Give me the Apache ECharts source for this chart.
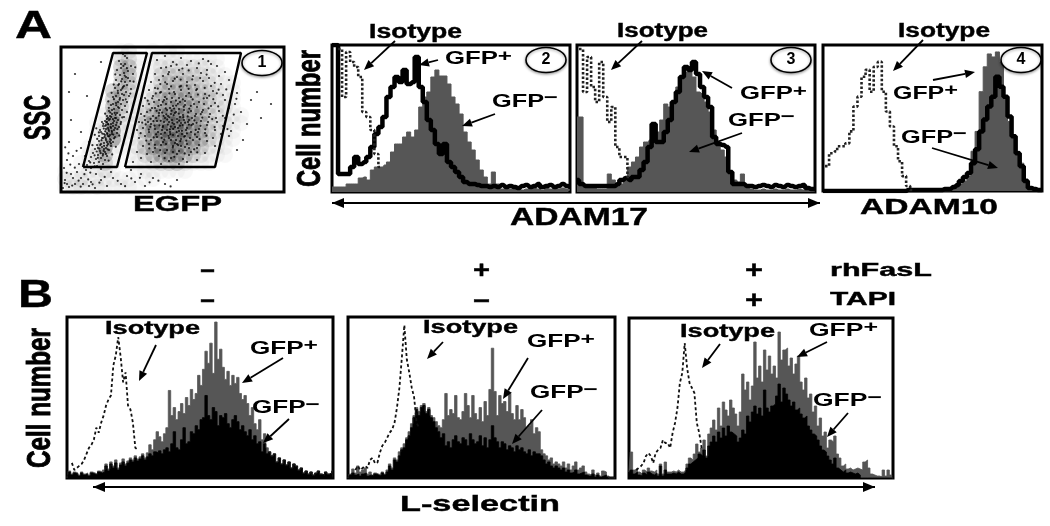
<!DOCTYPE html>
<html>
<head>
<meta charset="utf-8">
<script src="https://cdn.jsdelivr.net/npm/echarts@6/dist/echarts.min.js"></script>
<style>html,body{margin:0;background:#fff}#main{width:1050px;height:526px}</style>
</head>
<body>
<div id="main"></div>
<script>
// panel 1: SSC / EGFP dot plot, density read per 8px cell, rows top to bottom
var dotDensity=[
"0000000120010110000000000000",
"0000000331011111111100000000",
"0000000551012222221100000000",
"0000000451013333322110000000",
"0000000441013444332111000000",
"0000005431024445433211000000",
"0000005421134555443211000000",
"0000016411245666543221000000",
"0000017311356776553211100000",
"0000119211467887653221100000",
"0000129111578887653211000000",
"0000119111367887653211000000",
"0001181102467776542110000000",
"0001261011356885421110000000",
"0011141001123452111000000000",
"1011121001111111000000000000",
"2121111110110000000000000000",
"1221211111000000000000000000"];
var dotsLeft=[[62,138],[66,134],[58,131],[64,128],[70,126],[60,124],[56,122],[67,121],[63,119],[72,118],[59,117],[65,115],[61,113],[55,112],[69,111],[64,110],[58,108],[66,107],[62,105],[54,104],[70,103],[60,102],[65,100],[57,99],[63,97],[68,96],[52,95],[59,94],[62,92],[66,90],[55,89],[60,88],[50,87],[64,86],[57,85],[53,83],[61,82],[48,81],[66,80],[56,79],[51,78],[59,77],[46,76],[63,75],[54,74],[49,73],[57,72],[44,71],[60,70],[52,69],[47,68],[55,67],[42,66],[58,65],[50,64],[45,63],[53,62],[48,61],[40,60],[56,59],[51,58],[44,57],[47,56],[54,55],[41,54],[49,53],[45,52],[38,51],[52,50],[43,49],[47,48],[36,47],[50,46],[41,45],[45,44],[34,43],[48,42],[39,41],[44,40],[32,39],[42,38],[37,37],[46,36],[30,35],[40,34],[35,33],[44,32],[28,31],[38,30],[33,29],[42,28],[26,27],[36,26],[48,25],[30,24],[40,23],[52,66],[46,70],[49,76],[53,71],[43,58],[47,64],[51,60],[55,74],[39,62],[46,59],[50,68],[44,66],[48,72],[54,64],[42,54],[46,50],[40,48],[50,52],[37,44],[43,43],[47,74],[51,82],[57,90],[61,98],[63,106],[67,114],[60,128],[64,136],[55,96],[52,88],[58,84],[49,57],[45,67],[41,70],[38,56],
[47.5,62.3],[44.2,60.7],[49.6,65.1],[42.8,63.4],[46.3,57.9],[50.7,61.2],[43.6,55.2],[48.1,55.5],[45.4,69.6],[51.9,72.8],[41.3,58.4],[47.2,67.7],[44.7,53.6],[40.5,51.8],[52.3,57.4],[48.8,50.3],[39.2,46.9],[43.1,46.2],[46.6,42.7],[35.7,40.5],[41.8,36.4],[38.4,43.3],[44.9,38.1],[33.6,36.7],[49.3,79.5],[53.7,79.1],[47.8,84.2],[55.2,86.7],[58.6,92.3],[52.9,92.8],[61.3,103.6],[56.8,101.2],[63.7,116.4],[60.2,110.7],[65.9,123.8],[62.4,126.1],[57.3,106.9],[54.6,77.2],[50.2,75.1],[45.8,72.9],[42.3,68.2],[37.9,59.6],[36.2,53.1],[55.8,69.3],[53.1,53.7],[49.9,48.6],[46.1,46.3],[42.7,41.2],[39.6,38.8],[36.8,34.2],
[56.4,62.8],[59.7,68.1],[61.2,74.6],[35.3,63.7],[33.8,57.2],[58.3,56.4],[64.7,92.7],[69.3,98.4],[50.6,99.2],[47.3,90.6],[44.1,78.3],[72.6,110.3],[52.7,107.4],[74.2,124.7],[54.3,117.6],[31.4,46.8],[54.8,45.2],[51.2,37.6],[29.2,29.6],[47.6,31.4]];
var dotsRight=[[96,132],[104,136],[112,130],[120,134],[130,131],[142,133],[150,128],[100,124],[110,126],[118,122],[126,127],[136,124],[146,122],[156,126],[164,120],[94,118],[102,116],[108,120],[116,115],[122,118],[132,116],[140,119],[148,114],[158,116],[168,112],[90,110],[98,112],[106,108],[112,111],[120,106],[126,110],[134,107],[142,111],[150,106],[160,108],[172,104],[88,102],[94,104],[100,100],[108,103],[114,98],[120,102],[128,99],[136,103],[144,98],[152,101],[162,97],[176,99],[84,94],[92,96],[98,92],[104,95],[110,90],[118,94],[124,91],[130,95],[138,90],[146,94],[154,89],[164,92],[174,88],[82,86],[88,88],[94,84],[100,87],[106,82],[112,86],[118,83],[124,87],[130,81],[136,85],[142,82],[150,86],[158,81],[168,84],[180,80],[80,78],[86,80],[92,76],[98,79],[104,74],[110,78],[116,73],[122,77],[128,72],[134,76],[140,71],[148,75],[156,70],[164,74],[172,69],[78,70],[84,72],[90,68],[96,71],[102,66],[108,70],[114,65],[120,69],[126,64],[132,68],[138,63],[146,67],[154,62],[162,66],[170,61],[76,62],[82,64],[88,60],[94,63],[100,58],[106,62],[112,57],[118,61],[124,56],[130,60],[136,55],[144,59],[152,54],[160,58],[78,54],[84,56],[90,52],[96,55],[102,50],[108,54],[114,49],[120,53],[126,48],[132,52],[138,47],[146,51],[154,46],[82,46],[88,48],[94,44],[100,47],[106,42],[112,46],[118,41],[124,45],[130,40],[136,44],[144,39],[86,38],[92,40],[98,36],[104,39],[110,34],[116,38],[122,33],[128,37],[136,32],[90,30],[100,28],[108,31],[118,28],[126,30],[80,34],[76,40],[72,30],[107,76],[111,72],[115,80],[103,70],[119,75],[123,82],[113,68],[109,60],[117,64],[127,70],[105,88],[111,94],[99,82],[95,74],[121,58],[115,52],[125,62],[131,74],[101,62],[135,78],[91,84],[87,70],[113,100],[125,96],[133,88],[141,80],[147,70],[129,54],[137,60],[105,48],[97,60],[109,84],[119,90],[123,72],[117,56],[103,92],[93,90],[143,88],[149,78],[155,74],[128,44],[120,46],[112,40],[116,48],[110,52],
[105.3,77.6],[99.7,71.2],[111.4,69.1],[117.8,78.3],[93.5,66.4],[121.6,66.9],[103.9,59.3],[127.2,79.7],[113.1,83.5],[97.3,85.8],[89.6,73.2],[109.8,65.4],[115.7,59.8],[133.4,71.6],[125.9,58.7],[101.2,79.4],[107.6,56.2],[119.3,50.9],[95.1,57.7],[139.5,66.2],[122.8,85.3],[105.7,93.1],[114.9,91.4],[91.2,93.7],[131.7,92.6],[87.8,62.3],[83.4,75.9],[99.1,99.3],[108.4,98.6],[118.7,105.3],[127.6,103.2],[136.9,97.4],[143.7,104.1],[152.3,92.8],[147.5,83.7],[157.2,85.6],[153.6,64.9],[161.8,76.2],[145.4,56.3],[138.6,52.8],[133.1,42.7],[123.7,38.6],[113.3,35.2],[103.6,33.8],[93.9,47.2],[85.3,51.4],[79.6,58.8],[81.2,69.3],[89.4,81.7],[96.8,103.4],[104.2,109.6],[113.7,113.3],[121.4,123.5],[131.3,112.6],[139.2,113.9],[107.2,117.8],[145.6,117.4],[153.7,109.2],[129.8,86.1],[116.3,69.7],[101.7,64.8],[110.6,81.3],[120.9,61.2],[126.7,75.6],[106.3,72.4],[112.6,76.8],[98.4,66.7],[115.2,86.4],[124.1,69.3],[134.7,62.1],[141.3,74.4],[92.7,54.6],[103.3,52.3],[111.8,44.6],[125.3,51.4],[136.2,39.7],[88.3,43.6],[99.2,41.8],[130.4,66.8],[118.2,71.3],[108.9,62.7],[121.8,92.6],[95.6,81.2],[86.7,91.3],[142.7,93.6],[155.8,98.7],[165.3,102.6],[172.8,77.4],[166.4,62.9],[151.2,72.9],[105.1,124.7],[115.6,127.3],[127.7,121.6],[137.8,128.6],[147.3,130.8],[99.3,107.9],[157.6,102.3],[175.4,93.2],
[108.3,74.7],[113.8,78.9],[102.6,76.1],[118.9,66.3],[122.3,74.8],[97.8,76.3],[106.8,67.4],[112.2,63.1],[127.9,67.4],[104.7,83.6],[116.8,88.2],[92.4,70.8],[128.3,83.4],[135.6,69.2],[123.2,55.3],[117.1,46.9],[109.2,57.8],[100.6,54.1],[89.3,65.2],[84.7,67.6],[133.9,57.6],[139.8,77.9],[144.3,62.7],[101.8,90.2],[110.1,105.7],[125.8,106.3],[135.2,101.8],[148.2,96.3],[94.8,98.6],[119.7,112.4]];
var dotsSparse=[[6,32],[3,24],[10,18],[4,12],[14,8],[8,5],[20,14],[25,22],[18,28],[12,36],[30,10],[35,18],[28,6],[40,12],[46,6],[52,14],[60,8],[66,16],[74,10],[84,6],[92,14],[104,8],[116,12],[34,4],[16,20],[22,8],[6,8],[12,14],[2,4],[50,20],[70,22],[80,18],[20,60],[10,72],[26,96],[14,118],[40,130],[8,100],[196,100],[210,88],[186,68],[200,74],[182,52],[176,42],[168,56],[190,92],[20,44],[8,50],[28,50],[24,36],
[9.3,27.4],[5.7,19.2],[17.6,11.3],[23.4,17.8],[27.2,12.6],[13.8,24.3],[31.6,7.7],[38.4,9.3],[43.7,15.1],[11.2,6.4],[19.7,5.3],[7.4,38.6],[4.2,44.7],[15.6,41.2],[29.3,19.4],[33.8,25.6],[56.7,11.2],[64.1,5.8],[70.3,13.6],[78.9,14.2],[88.6,9.7],[97.4,11.3],[109.6,5.6],[3.6,8.9],[22.7,27.2]];
// gates drawn on the dot plot
var gateLeft=[[22,25],[56,25],[86,139],[52,139],[22,25]];
var gateRight=[[64,25],[154,25],[180,139],[91,139],[64,25]];

// panels 2-4: ADAM17 / ADAM10 histograms
var minus2=[5,5,5,5,8,8,8,14,15,12,22,25,25,27,30,40,48,48,55,60,55,62,85,95,100,115,122,116,116,108,95,88,78,60,50,42,32,22,15,8,20,8,3,4,3,5,4,2,3,5,4,3,2,4,3,5,3,4,3,2];
var plus2=[147,147,18,18,18,25,35,28,30,35,45,58,65,75,95,105,115,110,122,108,110,135,105,90,72,62,48,38,48,30,25,20,15,10,8,8,7,6,6,5,6,5,7,5,6,5,4,6,7,5,6,8,5,6,7,5,6,8,6,5];
var iso2=[null,null,143,95,140,130,125,115,80,75,62,38,25];
var minus3=[75,75,5,5,5,3,3,3,18,12,8,8,15,25,30,35,45,50,52,55,60,72,88,85,88,105,115,120,122,115,100,98,90,80,62,50,42,35,20,12,10,18,5,3,2,2,3,2,2,3,2,2,3,2,2,3,2,2,1,1];
var plus3=[12,8,6,6,6,6,6,6,6,6,8,12,14,12,15,15,22,30,45,68,50,50,60,72,90,100,115,125,122,130,118,105,95,85,55,48,47,45,20,8,8,8,6,6,5,6,7,6,5,7,6,5,7,6,5,6,7,4,3,3];
var iso3=[null,143,100,135,105,90,130,95,70,85,45,35,35,15];
var minus4=[0,0,0,0,0,0,0,0,0,0,0,0,0,0,0,0,0,0,0,0,0,0,0,0,0,0,0,0,0,0,0,0,3,5,7,10,15,40,60,100,125,138,135,140,130,95,70,55,40,28,12,4,3,1,1];
var plus4=[0,0,0,0,0,0,0,0,0,0,0,0,0,0,0,0,0,0,0,0,0,1,1,1,1,1,1,1,1,1,2,2,4,6,10,14,18,28,42,60,72,85,95,115,105,95,75,55,38,25,10,3,2,1,1];
var iso4=[null,25,38,40,45,45,48,60,85,95,115,122,100,125,130,100,80,65,45,30,15,5,1];

// panels B: L-selectin histograms, 110 channels
var plusB1=[0,7,4,6,5,3,6,4,5,3,6,5,4,7, 6,8,14,9,16,12,18,10,15,19,14,17,20,18, 22,19,21,24,20,25,33,28,38,46,41,36,44, 50,87,62,70,58,66,74,64,80,72,88,78,84,102, 92,108,126,114,134,104,155,118,128,110,98,106,92,102, 94,100,84,78,82,74,62,70,54,48,58,38,44,30, 26,22,24,16,20,14,18,13,16,10,14,12,8,10, 5,7,4,6,3,5,7,4,3,6,4,5,7];
var minusB1=[0,6,3,5,4,2,5,3,4,2,5,4,3,6, 5,6,12,7,14,10,15,8,13,16,12,15,18,16, 20,17,19,22,18,21,24,22,26,25,27,24,28, 30,26,34,46,30,28,38,50,34,36,46,44,52,48, 58,60,82,62,58,70,66,52,62,60,64,54,50,58, 62,56,48,52,46,42,48,38,42,34,36,26,34,24, 26,22,24,16,20,14,18,13,16,10,14,12,8,10, 5,7,4,6,3,5,7,4,3,6,4,5,7];
var isoB1=[null,null,15,8,10,12,14,18,24,30,33,38,50,45,55,62,72,78,82,112,122,140,120,95,105,72,68,55,30,28];
var plusB2=[0,4,9,5,12,6,8,10,4,6,3,5,4,3, 6,4,8,14,10,20,18,26,30,34,40,46,54,62, 70,66,72,74,66,70,62,60,56,52,50,58, 84,62,68,64,82,60,58,66,84,72,60,82,64,58,70,56,76,62,88, 129,86,62, 82,74,76,66,84,64,58,72,58,68,60,50,52,58,44,50, 46,28,24,22,18,20,14, 16,14,12,16,10,14,8,12,16,8,10,12, 6,4,3,8,3,5,2,7,6,2,0,0,0];
var minusB2=[0,3,5,3,4,2,4,5,2,3,2,4,3,2, 5,3,6,12,8,18,16,22,28,30,38,42,50,60, 68,62,70,72,64,68,60,56,50,46,40,44, 32,36,30,38,42,36,34,40,38,32,44,38,34,36,42,32,40,30,38, 52,40,36, 30,36,34,28,32,30,26,32,28,30,26,24,28,22,26,24, 24,22,18,14,16,12,10, 12,10,8,10,6,8,5,6,8,4,5,6, 3,2,2,4,1,3,1,2,3,1,0,0,0];
var isoB2=[null,null,null,8,12,8,10,12,10,18,20,15,15,25,32,35,40,45,48,55,70,90,120,152,118,105,90,80,55,50];
var plusB3=[6,26,8,10,6,4,8,6,10,7, 6,8,4,14,4,16,6,6,7,6,8,6,6,8,14, 20,18,24,34,26,30,38,22,44,50, 58,48,70,52,76,68,62,78,70,64, 52,66,104,88,96,78,92,136,100,112, 96,128,108,122,104,112,100,146,118,128, 130,112,120,104,114,122,96,88,100,80, 84,66,72,52,60,42,46,30,38,36, 42,24,20,12,14,9,10,8,9,10, 9,8,16,18,10,4,3,2,2,1,8,2,8,3,0];
var minusB3=[5,8,4,6,3,2,5,3,6,4, 3,5,2,12,2,8,4,4,5,4,6,4,4,6,10, 14,16,18,20,24,22,28,20,32,36, 42,36,46,40,50,42,52,46,44,42, 36,40,48,44,62,56,66,72,64,70, 62,88,70,66,72,74,82,94,76,90, 84,78,72,76,68,70,64,60,62,52, 48,44,42,38,32,28,26,22,18,14, 20,10,8,6,8,5,6,5,4,5, 3,0,0,0,0,0,0,0,0,0,0,0,0,0,0];
var isoB3=[null,null,null,8,10,12,15,22,25,22,15,25,28,30,38,35,35,30,45,55,70,95,105,135,110,95,90,85,55,45,30];

function bins(n){var a=[];for(var i=0;i<n;i++)a.push(i);return a;}

var font='"Liberation Sans","DejaVu Sans",sans-serif';
var gray="#565656";
var myChart=echarts.init(document.getElementById('main'));

var grids=[],xAxes=[],yAxes=[],series=[];
function addGrid(box,x,yMax,border){
	grids.push({left:box[0],top:box[1],width:box[2]-box[0],height:box[3]-box[1],show:true,borderColor:"#000",borderWidth:border,backgroundColor:"#fff"});
	var g=grids.length-1;
	xAxes.push(Object.assign({gridIndex:g,show:false},x));
	yAxes.push({gridIndex:g,show:false,type:'value',min:0,max:yMax});
	return g;
}
// 直方图（上排）：灰色填充 + 粗黑线 + 虚线
function topPanel(box,minus,plus,iso){
	var g=addGrid(box,{type:'category',boundaryGap:false,data:bins(minus.length)},147,3);
	series.push({type:'line',xAxisIndex:g,yAxisIndex:g,data:minus,step:'middle',showSymbol:false,lineStyle:{color:gray,width:1},areaStyle:{color:gray,opacity:1}});
	series.push({type:'line',xAxisIndex:g,yAxisIndex:g,data:plus,step:'middle',showSymbol:false,lineStyle:{color:"#000",width:4.5}});
	series.push({type:'line',xAxisIndex:g,yAxisIndex:g,data:iso,step:'middle',showSymbol:false,lineStyle:{color:"#222",width:2.6,type:[2.5,2]}});
}
// 直方图（下排）：灰 + 黑（阶梯填充）+ 虚线
function bottomPanel(box,plus,minus,iso){
	var g=addGrid(box,{type:'category',boundaryGap:false,data:bins(plus.length)},160,3);
	series.push({type:'line',xAxisIndex:g,yAxisIndex:g,data:plus,step:'middle',showSymbol:false,lineStyle:{color:gray,width:0.8},areaStyle:{color:gray,opacity:1}});
	series.push({type:'line',xAxisIndex:g,yAxisIndex:g,data:minus,step:'middle',showSymbol:false,lineStyle:{color:"#000",width:0.8},areaStyle:{color:"#000",opacity:1}});
	series.push({type:'line',xAxisIndex:g,yAxisIndex:g,data:iso,showSymbol:false,lineStyle:{color:"#111",width:1.8,type:[3,2.5]}});
}

// 点图
var g0=addGrid([61,47,284,192],{type:'value',min:0,max:223},145,3);
var cells=[];
dotDensity.forEach(function(row,r){
	row.split('').forEach(function(d,c){
		if(d!=='0') cells.push([4+8*c,145-(4+8*r),+d]);
	});
});
series.push({type:'scatter',xAxisIndex:g0,yAxisIndex:g0,data:cells,symbolSize:16,silent:true,itemStyle:{color:function(p){return 'rgba(0,0,0,'+(p.data[2]*0.036)+')';}}});
[dotsLeft,dotsRight,dotsSparse].forEach(function(d){
	series.push({type:'scatter',xAxisIndex:g0,yAxisIndex:g0,data:d,symbolSize:2.2,itemStyle:{color:"#000"}});
});
[gateLeft,gateRight].forEach(function(d){
	series.push({type:'line',xAxisIndex:g0,yAxisIndex:g0,data:d,showSymbol:false,lineStyle:{color:"#000",width:2.4}});
});

topPanel([332,45,570,192],minus2,plus2,iso2);
topPanel([577,45,815,192],minus3,plus3,iso3);
topPanel([823,45,1042,191],minus4,plus4,iso4);
bottomPanel([67,317,333,478],plusB1,minusB1,isoB1);
bottomPanel([348,317,615,478],plusB2,minusB2,isoB2);
bottomPanel([629,318,893,478],plusB3,minusB3,isoB3);

// 文字：按参考图的宽度横向拉伸
var ctx=document.createElement('canvas').getContext('2d');
function label(s,x0,x1,y0,y1,size){
	ctx.font='bold '+size+'px '+font;
	return {type:'text',z:20,x:x0,y:(y0+y1)/2,scaleX:(x1-x0)/ctx.measureText(s).width,
		style:{text:s,font:'bold '+size+'px '+font,fill:"#000",stroke:"#000",lineWidth:0.4,textAlign:'left',textVerticalAlign:'middle'}};
}
function vlabel(s,cx,y0,y1,size){
	ctx.font='bold '+size+'px '+font;
	return {type:'text',z:20,x:cx,y:y1,rotation:Math.PI/2,scaleX:(y1-y0)/ctx.measureText(s).width,
		style:{text:s,font:'bold '+size+'px '+font,fill:"#000",stroke:"#000",lineWidth:0.9,textAlign:'left',textVerticalAlign:'middle'}};
}
// GFP 加上标
function gfp(sign,x0,x1,y0,y1){
	var size=18,f='bold '+size+'px '+font,fs='bold 17px '+font;
	ctx.font=f;var w=ctx.measureText("GFP").width;
	ctx.font=fs;w+=ctx.measureText(sign).width;
	return {type:'text',z:20,x:x0,y:(y0+y1)/2,scaleX:(x1-x0)/w,
		style:{text:'{a|GFP}{s|'+sign+'}',fill:"#000",textAlign:'left',textVerticalAlign:'middle',
			rich:{a:{font:f,fill:"#000",lineHeight:20,verticalAlign:'bottom'},s:{font:fs,fill:"#000",lineHeight:20,padding:[0,0,5,0]}}}};
}
function arrow(x0,y0,x1,y1,w,head){
	var a=Math.atan2(y1-y0,x1-x0),h=head||10,s=h*0.42;
	var bx=x1-h*Math.cos(a),by=y1-h*Math.sin(a);
	return [{type:'line',z:19,shape:{x1:x0,y1:y0,x2:bx,y2:by},style:{stroke:"#000",lineWidth:w||1.8}},
		{type:'polygon',z:19,shape:{points:[[x1,y1],[bx-s*Math.sin(a),by+s*Math.cos(a)],[bx+s*Math.sin(a),by-s*Math.cos(a)]]},style:{fill:"#000"}}];
}
function badge(n,cx,cy){
	return [{type:'ellipse',z:21,shape:{cx:cx,cy:cy,rx:20,ry:12.5},style:{fill:"#fff",stroke:"#000",lineWidth:1.6,shadowBlur:3,shadowOffsetY:1,shadowColor:'rgba(0,0,0,.4)'}},
		{type:'text',z:22,x:cx,y:cy,style:{text:n,font:'bold 16px '+font,fill:"#000",textAlign:'center',textVerticalAlign:'middle'}}];
}
var graphic=[
	label("A",15,52,13,41,39),label("B",18,53,283,310,38),
	vlabel("SSC",40,95,140,36),vlabel("Cell number",311,50,187,33),vlabel("Cell number",41,328,468,33),
	label("EGFP",133,222,197,213,22),label("ADAM17",510,648,210,227,23),label("ADAM10",860,998,200,216,22),label("L-selectin",400,560,497,513,22),
	label("rhFasL",830,932,265,278,18),label("TAPI",830,896,293,307,19),
	label("−",200,215,272,272,22),label("−",200,215,302,302,22),label("+",473,490,271,271,24),label("−",473,490,302,302,22),label("+",745,763,271,271,24),label("+",745,763,301,301,24),
	label("Isotype",369,462,24,41,19.5),gfp("+",445,512,52,65),gfp("−",492,558,95,107),
	label("Isotype",617,708,23,40,19.5),gfp("+",740,807,87,100),gfp("−",728,795,113,127),
	label("Isotype",898,990,23,40,19.5),gfp("+",893,958,87,99),gfp("−",901,967,131,143),
	label("Isotype",105,200,321,337,18),gfp("+",250,318,342,354),gfp("−",252,320,401,414),
	label("Isotype",423,518,320,336,18),gfp("+",527,595,335,348),gfp("−",530,598,386,399),
	label("Isotype",680,775,324,340,18),gfp("+",809,878,323,337),gfp("−",813,882,393,408)
].concat(
	badge("1",262,63),badge("2",546,60),badge("3",791,60),badge("4",1021,60),
	arrow(395,41,364,70),arrow(438,60,419,65),arrow(495,114,462,126),
	arrow(642,41,611,70),arrow(732,88,702,71),arrow(742,133,689,152),
	arrow(923,40,893,71),arrow(933,80,975,72),arrow(932,148,998,168),
	arrow(156,345,139,381),arrow(283,358,242,383),arrow(289,419,263,443),
	arrow(443,342,427,359),arrow(528,358,503,399),arrow(542,410,512,444),
	arrow(720,344,702,368),arrow(827,342,797,357),arrow(848,413,827,437),
	arrow(332,203,820,203,2,12),arrow(820,203,332,203,2,12),
	arrow(93,487,875,487,2.2,12),arrow(875,487,93,487,2.2,12)
);

var option={
	animation:false,
	backgroundColor:"#fff",
	grid:grids,xAxis:xAxes,yAxis:yAxes,
	series:series,
	graphic:graphic
};
myChart.setOption(option);
</script>
</body>
</html>
